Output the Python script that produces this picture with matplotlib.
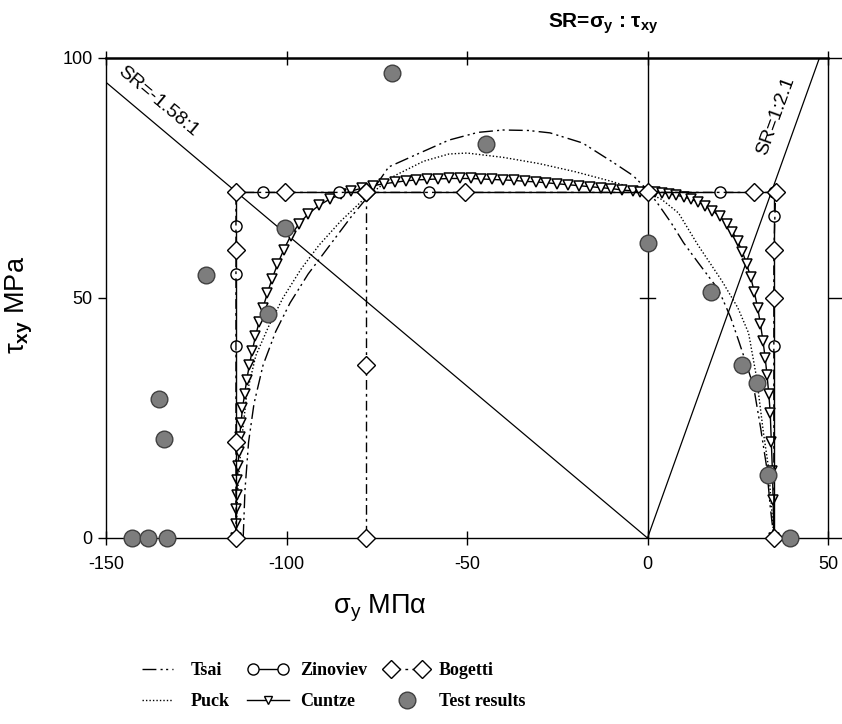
import matplotlib
matplotlib.use('Agg')
import matplotlib.pyplot as plt
from matplotlib.lines import Line2D
from matplotlib.legend_handler import HandlerLine2D

plt.rcParams['font.family'] = ['Liberation Sans', 'DejaVu Sans']
plt.rcParams['mathtext.fontset'] = 'custom'
plt.rcParams['mathtext.rm'] = 'Liberation Sans'
plt.rcParams['mathtext.it'] = 'Liberation Sans:italic'
plt.rcParams['mathtext.bf'] = 'Liberation Sans:bold'
plt.rcParams['axes.unicode_minus'] = False

# --- data ---
# stress-ratio reference lines (sigma_y, tau_xy)
sr_neg_x = [0, -150]
sr_neg_y = [0, 150 / 1.58]
sr_pos_x = [0, 100 / 2.1]
sr_pos_y = [0, 100]

# Tsai
tsai_x = [-112, -111.5, -110.5, -109, -106.5, -103, -99, -94, -88, -82, -77,
          -71.7, -64.3, -55, -47, -40, -33, -27, -18, -9, -4, 0,
          3, 6.6, 10, 14.1, 19.7, 23, 25.2, 27.5, 29.4, 31.3, 33, 34, 35]
tsai_y = [0, 10, 20, 28, 36, 43, 49, 55, 61, 67, 71.5,
          77.3, 79.8, 82.9, 84.5, 85, 84.9, 84.4, 82.3, 78, 75.5, 72.5,
          69.5, 65.6, 61.5, 57.3, 51.7, 46, 41.2, 36, 31.5, 23.1, 14.8, 6.5, 0]

# Puck
puck_x = [-114, -113.5, -112.5, -111, -108.5, -105, -101, -96, -91, -85, -78,
          -70, -62, -55, -50, -40, -30, -20, -10, 0,
          4, 8.6, 14, 20.5, 25, 28, 30.2, 32.1, 33.5, 34.5, 35]
puck_y = [0, 10, 20, 30, 38, 44, 50, 56, 61, 66, 71,
          75.5, 78.5, 80, 80.2, 79.3, 78, 76.3, 74.3, 72,
          70.5, 67.7, 61, 53.7, 48, 42.7, 33.5, 22, 14.8, 5, 0]

# Zinoviev
zin_x = [-114, -114, -114, -114, -114, -106.5, -85.5, -60.5, 0, 20, 35, 35, 35, 35]
zin_y = [0, 40, 55, 65, 72, 72, 72, 72, 72, 72, 72, 67, 40, 0]

# Bogetti (main envelope and the compression branch)
bog_x = [-114, -114, -114, -114, -100.5, -78, -50.5, 0, 29.5, 35.5, 35, 35, 35]
bog_y = [0, 20, 60, 72, 72, 72, 72, 72, 72, 72, 60, 50, 0]
bog2_x = [-78, -78, -78]
bog2_y = [72, 36, 0]

# Cuntze
cun_x = [-114, -114, -114, -113.8, -113.6, -113.4, -113.2, -113, -112.6, -112.2,
         -111.6, -111, -110.3, -109.5, -108.6, -107.6, -106.5, -105.3, -104,
         -102.5, -100.8, -98.8, -96.5, -94, -91, -88, -85, -82, -79, -76, -73,
         -70, -67, -64, -61, -58, -55, -52, -49, -46, -43, -40, -37, -34, -31,
         -28, -25, -22, -19, -16, -13, -10, -7, -4, -2, 0,
         2, 4, 6, 8, 10, 12, 14, 16, 18, 20, 22, 23.5, 25, 26.3, 27.5, 28.6,
         29.6, 30.5, 31.3, 32, 32.6, 33.1, 33.6, 34, 34.3, 34.6, 34.8, 35]
cun_y = [0, 3, 6, 9, 12, 15, 18, 21, 24, 27,
         30, 33, 36, 39, 42, 45, 48, 51, 54,
         57, 60, 63, 65.5, 67.5, 69.3, 70.6, 71.6, 72.3, 72.9, 73.4, 73.8,
         74.1, 74.4, 74.6, 74.7, 74.8, 74.9, 74.9, 74.9, 74.8, 74.7, 74.6, 74.5, 74.3, 74.2,
         74, 73.8, 73.6, 73.4, 73.2, 73, 72.8, 72.5, 72.3, 72.1, 72,
         72, 71.9, 71.7, 71.4, 71.1, 70.6, 70, 69.2, 68.2, 67, 65.4, 63.8, 61.8, 59.6, 57, 54.3,
         51.2, 48, 44.5, 41, 37.5, 34, 30, 26, 20, 14, 8, 0]

# Test results
test_x = [-142.7, -138.5, -133, -133.8, -135.2, -122.4, -105.2, -100.3,
          -70.9, -44.6, 0, 17.7, 26.3, 30.2, 33.5, 39.6]
test_y = [0, 0, 0, 20.6, 29, 54.8, 46.7, 64.6,
          96.9, 82.1, 61.5, 51.3, 36, 32.2, 13.1, 0]

X_TICKS = [-150, -100, -50, 0, 50]
Y_TICKS = [0, 50, 100]

# --- styles ---
TSAI_LS = (0, (10, 3, 1.5, 2.5, 1.5, 3))
PUCK_LS = (0, (1, 1.5))
BOG_LS = (0, (7, 3, 2, 3))
GREY = '#7d7d7d'


def main():
    fig = plt.figure(figsize=(8.42, 7.24), dpi=100, facecolor='white')
    ax = fig.add_axes([106 / 842, 1 - 538 / 724, 722 / 842, 480 / 724])
    ax.set_xlim(-150, 50)
    ax.set_ylim(0, 100)

    # reference lines
    ax.plot(sr_neg_x, sr_neg_y, color='black', lw=0.9, zorder=2)
    ax.plot(sr_pos_x, sr_pos_y, color='black', lw=0.9, zorder=2)
    ax.axvline(0, color='black', lw=1.0, zorder=2)
    ax.plot([-2, 2], [50, 50], color='black', lw=1.0, zorder=2)

    ax.text(-135.5, 91, 'SR=-1.58:1', fontsize=14, rotation=-40,
            ha='center', va='center', rotation_mode='anchor')
    ax.text(35.5, 88, 'SR=1:2.1', fontsize=14, rotation=70,
            ha='center', va='center', rotation_mode='anchor')

    # criteria
    ax.plot(tsai_x, tsai_y, color='black', lw=1.0, ls=TSAI_LS, zorder=3)
    ax.plot(puck_x, puck_y, color='black', lw=1.0, ls=PUCK_LS, zorder=3)
    ax.plot(cun_x, cun_y, color='black', lw=1.0, marker='v', ms=6.5,
            mfc='white', mec='black', mew=1.1, zorder=4, clip_on=False)
    ax.plot(zin_x, zin_y, color='black', lw=1.0, marker='o', ms=8,
            mfc='white', mec='black', mew=1.0, zorder=5, clip_on=False)
    ax.plot(bog_x, bog_y, color='black', lw=1.0, ls=BOG_LS, marker='D', ms=9,
            mfc='white', mec='black', mew=1.0, zorder=6, clip_on=False)
    ax.plot(bog2_x, bog2_y, color='black', lw=1.0, ls=BOG_LS, marker='D', ms=9,
            mfc='white', mec='black', mew=1.0, zorder=6, clip_on=False)
    ax.plot(test_x, test_y, ls='none', marker='o', ms=12, mfc=GREY,
            mec='#404040', mew=1.0, zorder=7, clip_on=False)

    # axes styling
    ax.set_xticks(X_TICKS)
    ax.set_yticks(Y_TICKS)
    ax.tick_params(axis='x', direction='inout', length=10, width=1.0,
                   top=True, labelsize=13, pad=8)
    ax.tick_params(axis='y', direction='out', length=6, width=1.0,
                   labelsize=13)
    ax.tick_params(axis='y', which='both', right=True)
    for t in ax.yaxis.get_ticklines()[1::2]:
        t.set_markersize(10)
    for s in ['left', 'right', 'bottom']:
        ax.spines[s].set_linewidth(1.0)
    ax.spines['top'].set_linewidth(1.8)

    ax.set_xlabel(r'σ$_\mathrm{y}$ MΠα', fontsize=19.5)
    ax.xaxis.set_label_coords(0.38, -0.115)
    ax.set_ylabel(r'τ$_\mathbf{xy}$ MPa', fontsize=19.5)
    ax.yaxis.set_label_coords(-0.098, 0.485)

    fig.text(603 / 842, 1 - 24 / 724, r'SR=σ$_\mathbf{y}$ : τ$_\mathbf{xy}$',
             fontsize=15, fontweight='bold', ha='center', va='center')

    # legend
    h_tsai = Line2D([], [], color='black', lw=1.0, ls=TSAI_LS)
    h_puck = Line2D([], [], color='black', lw=1.0, ls=PUCK_LS)
    h_zin = Line2D([], [], color='black', lw=1.0, marker='o', ms=8,
                   mfc='white', mec='black')
    h_cun = Line2D([], [], color='black', lw=1.0, marker='v', ms=6,
                   mfc='white', mec='black')
    h_bog = Line2D([], [], color='black', lw=1.0, ls=BOG_LS, marker='D', ms=9,
                   mfc='white', mec='black')
    h_test = Line2D([], [], ls='none', marker='o', ms=12, mfc=GREY,
                    mec='#404040')
    fig.legend([h_tsai, h_puck, h_zin, h_cun, h_bog, h_test],
               ['Tsai', 'Puck', 'Zinoviev', 'Cuntze', 'Bogetti', 'Test results'],
               ncol=3, loc='upper left', bbox_to_anchor=(137 / 842, 1 - 662 / 724),
               frameon=False, numpoints=2, handlelength=2.3, handletextpad=0.65,
               columnspacing=1.0, labelspacing=0.8, borderpad=0, borderaxespad=0,
               prop={'family': 'Liberation Serif', 'weight': 'bold', 'size': 13},
               handler_map={h_cun: HandlerLine2D(numpoints=1),
                            h_test: HandlerLine2D(numpoints=1)})

    fig.savefig('out.png', dpi=100, facecolor='white')
    plt.close(fig)


if __name__ == '__main__':
    main()
